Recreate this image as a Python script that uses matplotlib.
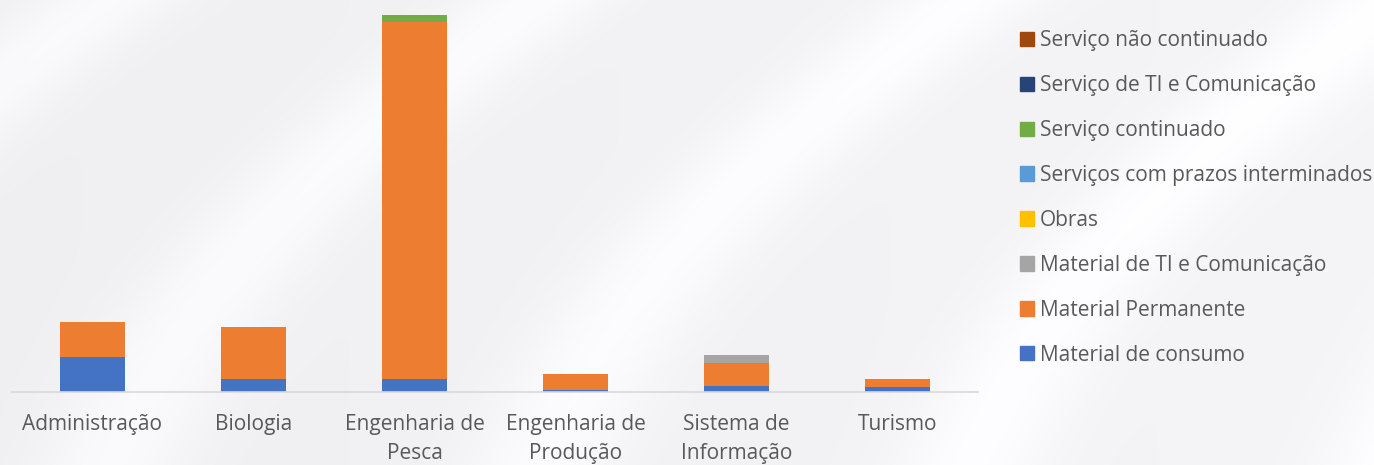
import numpy as np
import matplotlib.pyplot as plt
from matplotlib.patches import Patch

# Data (arbitrary units)
cursos = ['Administração', 'Biologia', 'Engenharia de\nPesca', 'Engenharia de\nProdução',
          'Sistema de\nInformação', 'Turismo']
series = ['Material de consumo', 'Material Permanente', 'Material de TI e Comunicação',
          'Obras', 'Serviços com prazos interminados', 'Serviço continuado',
          'Serviço de TI e Comunicação', 'Serviço não continuado']
material_consumo = [35.0, 13.5, 13.5, 2.3, 6.0, 4.6]
material_permanente = [35.0, 52.0, 357.0, 15.7, 23.3, 8.4]
material_ti = [0, 0, 0, 0, 7.3, 0]
obras = [0, 0, 0, 0, 0, 0]
servicos_prazos = [0, 0, 0, 0, 0, 0]
servico_continuado = [0, 0, 6.7, 0, 0, 0]
servico_ti = [0, 0, 0, 0, 0, 0]
servico_nao_continuado = [0, 0, 0, 0, 0, 0]
valores = [material_consumo, material_permanente, material_ti, obras,
           servicos_prazos, servico_continuado, servico_ti, servico_nao_continuado]
cores = ['#4472C4', '#ED7D31', '#A5A5A5', '#FFC000', '#5B9BD5', '#70AD47', '#264478', '#9E480E']

W, H = 1374, 465
fig = plt.figure(figsize=(W / 100, H / 100), dpi=100)

# light grey background with soft white streaks
bg = fig.add_axes([0, 0, 1, 1], zorder=-10)
yy, xx = np.mgrid[0:H, 0:W]
u = (xx + 0.9 * yy) / W
streak = 0.5 + 0.5 * np.sin(2 * np.pi * (u * 3.2 + 0.15 * np.sin(yy / H * 3)))
base = 0.94 + 0.04 * streak ** 3 + 0.02 * (xx / W)
img = np.dstack([base, base, base + 0.008]).clip(0, 1)
bg.imshow(img, aspect='auto', extent=[0, 1, 0, 1])
bg.axis('off')

ax = fig.add_axes([12 / W, 73 / H, 966 / W, 377 / H])
ax.patch.set_alpha(0)
x = np.arange(len(cursos))
bottom = np.zeros(len(cursos))
for nome, vals, cor in zip(series, valores, cores):
    vals = np.array(vals, dtype=float)
    ax.bar(x, vals, 0.4, bottom=bottom, color=cor, label=nome, zorder=2)
    bottom += vals

ax.set_xlim(-0.5, len(cursos) - 0.5)
ax.set_ylim(0, bottom.max())
ax.set_xticks(x)
ax.set_xticklabels(cursos, fontsize=15, color='#595959', family='Open Sans', linespacing=1.5)
ax.tick_params(axis='x', length=0, pad=16)
ax.set_yticks([])
for s in ['top', 'right', 'left']:
    ax.spines[s].set_visible(False)
ax.spines['bottom'].set_color('#d9d9d9')
ax.spines['bottom'].set_linewidth(1.2)

handles = [Patch(color=c) for c in cores][::-1]
fig.legend(handles, series[::-1], loc='upper left', bbox_to_anchor=(1020 / W, 1 - 30 / H),
           frameon=False, labelcolor='#595959', prop={'family': 'Open Sans', 'size': 15},
           handlelength=0.67, handleheight=0.67, handletextpad=0.3, labelspacing=1.15,
           borderpad=0, borderaxespad=0)

fig.savefig('out.png', dpi=100)
